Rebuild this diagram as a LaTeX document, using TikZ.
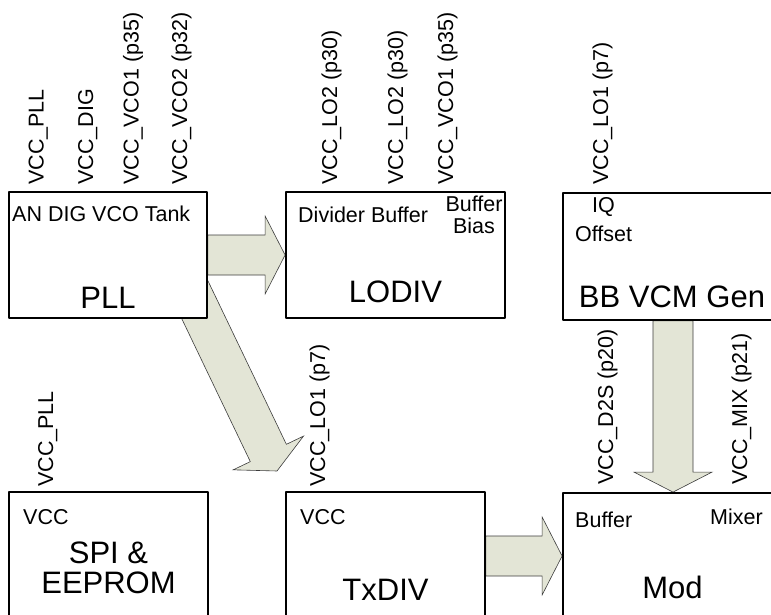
\documentclass[tikz,border=0pt]{standalone}
\usepackage{fontspec}
\setmainfont{Liberation Sans}
\usetikzlibrary{calc,backgrounds}
\definecolor{arrfill}{RGB}{227,229,214}
\definecolor{arrline}{RGB}{60,60,60}
\newcommand\sml{\fontsize{21.5bp}{21bp}\selectfont}
\newcommand\bg{\fontsize{31bp}{30bp}\selectfont}
\tikzset{
  blk/.style={draw=black, line width=1.8bp, fill=white, inner sep=0pt},
  pinlbl/.style={rotate=90, anchor=base west, inner sep=0pt, font=\sml},
  lbl/.style={anchor=base west, inner sep=0pt, font=\sml},
  biglbl/.style={anchor=base, inner sep=0pt, font=\bg, align=center},
  fatarr/.style={draw=arrline, fill=arrfill, line width=0.6bp, line join=miter}
}
% block arrow from #1 to #2
\newcommand\fatarrow[2]{%
  \coordinate (neck) at ($(#2)!20bp!(#1)$);
  \draw[fatarr] ($(#1)!20bp!-90:(#2)$) -- ($(neck)!20bp!90:(#1)$)
    -- ($(neck)!39bp!90:(#1)$) -- (#2) -- ($(neck)!39bp!-90:(#1)$)
    -- ($(neck)!20bp!-90:(#1)$) -- ($(#1)!20bp!90:(#2)$) -- cycle;}
\begin{document}
\begin{tikzpicture}[x=1bp, y=-1bp, line join=round]
    \useasboundingbox (0,0) rectangle (771,615);
    \clip (0,0) rectangle (771,615);
    % blocks
    \node[blk, minimum width=198bp, minimum height=126bp] (pll) at (108,255) {};
    \node[blk, minimum width=219bp, minimum height=126bp] (lodiv) at (395.5,255) {};
    \node[blk, minimum width=220bp, minimum height=127bp] (bbvcm) at (673,256.5) {};
    \node[blk, minimum width=199bp, minimum height=128bp] (spi) at (108.5,556) {};
    \node[blk, minimum width=199bp, minimum height=128bp] (txdiv) at (385.5,556) {};
    \node[blk, minimum width=220bp, minimum height=126bp] (mod) at (673,556) {};
    % block texts (multi-line nodes sit on their last line)
    \node[biglbl] (pllname) at (108,308) {PLL};
    \node[lbl] (pllsub) at (12,222) {AN DIG VCO Tank};
    \node[biglbl] (lodivname) at (395.5,302) {LODIV};
    \node[lbl] (lodivsub) at (298,222.5) {Divider Buffer};
    \node[lbl, anchor=base, align=center] (lodivbias) at (474,233) {Buffer\\Bias};
    \node[biglbl] (bbvcmname) at (672,307) {BB VCM Gen};
    \node[lbl, anchor=base, align=center, font=\fontsize{21.5bp}{28bp}\selectfont] (bbvcmsub) at (603.5,241) {IQ\\Offset};
    \node[biglbl] (spiname) at (108.5,593) {SPI \&\\EEPROM};
    \node[lbl] (spisub) at (23,524) {VCC};
    \node[biglbl] (txdivname) at (385.5,600) {TxDIV};
    \node[lbl] (txdivsub) at (300,524) {VCC};
    \node[biglbl] (modname) at (672.5,598) {Mod};
    \node[lbl] (modbuf) at (575,527) {Buffer};
    \node[lbl] (modmix) at (710,524) {Mixer};
    % supply pins
    \node[pinlbl] (p1) at (43.5,185) {VCC\_PLL};
    \node[pinlbl] (p2) at (93,185) {VCC\_DIG};
    \node[pinlbl] (p3) at (138.5,185) {VCC\_VCO1 (p35)};
    \node[pinlbl] (p4) at (187,185) {VCC\_VCO2 (p32)};
    \node[pinlbl] (p5) at (337,185) {VCC\_LO2 (p30)};
    \node[pinlbl] (p6) at (403,185) {VCC\_LO2 (p30)};
    \node[pinlbl] (p7) at (453,185) {VCC\_VCO1 (p35)};
    \node[pinlbl] (p8) at (608,185) {VCC\_LO1 (p7)};
    \node[pinlbl] (p9) at (53,487) {VCC\_PLL};
    \node[pinlbl] (p10) at (325,487) {VCC\_LO1 (p7)};
    \node[pinlbl] (p11) at (613,485) {VCC\_D2S (p20)};
    \node[pinlbl] (p12) at (747,485) {VCC\_MIX (p21)};
    % block arrows
    \coordinate (dtail) at (182,273);
    \coordinate (dtip) at (277,471);
    \begin{scope}[on background layer]
        \fatarrow{pll.east}{lodiv.west}
        \fatarrow{dtail}{dtip}
        \fatarrow{bbvcm.south}{mod.north}
        \fatarrow{txdiv.east}{mod.west}
    \end{scope}
\end{tikzpicture}
\end{document}
